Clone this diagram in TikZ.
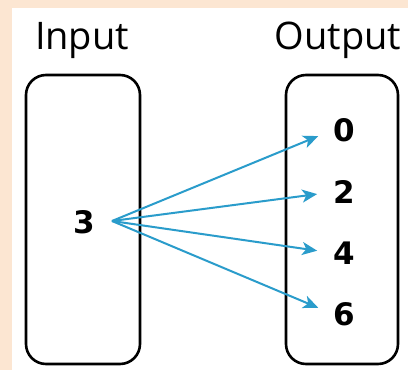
\documentclass[tikz,border=0pt]{standalone}
\usepackage{fontspec}
\setmainfont{Open Sans}
\newfontfamily\digitfont{DejaVu Sans}
\usetikzlibrary{arrows.meta}
\definecolor{peach}{HTML}{FCE6D2}
\definecolor{arrowblue}{HTML}{2A9CCB}
\tikzset{
  setbox/.style={draw=black, line width=2.6pt, rounded corners=20pt, inner sep=0pt,
                 minimum height=289pt, minimum width=#1},
  heading/.style={font=\fontsize{38}{42}\selectfont, inner sep=0pt},
  value/.style={font=\digitfont\bfseries\fontsize{31}{34}\selectfont, inner sep=0pt},
  maparrow/.style={draw=arrowblue, line width=2pt, -{Stealth[length=15pt,width=13pt,inset=4pt]}, shorten >=16pt}
}
\begin{document}
\begin{tikzpicture}[x=1pt, y=-1pt]
  % page and margin band
  \useasboundingbox (0,0) rectangle (408,370);
  \fill[peach] (0,0) rectangle (408,370);
  \fill[white] (12,8) rectangle (408,370);

  % the two sets
  \node[setbox=114pt] (inbox) at (83,219.5) {};
  \node[setbox=112pt] (outbox) at (342,219.5) {};

  % headings
  \node[heading] (inlabel) at (82,40) {Input};
  \node[heading] (outlabel) at (338,40) {Output};

  % elements
  \node[value] (n3) at (84,222) {3};
  \node[value] (n0) at (344,130) {0};
  \node[value] (n2) at (344,192) {2};
  \node[value] (n4) at (344,253) {4};
  \node[value] (n6) at (344,314) {6};

  % mapping arrows
  \coordinate (src) at (112,221);
  \draw[maparrow] (src) -- (n0.west);
  \draw[maparrow] (src) -- (n2.west);
  \draw[maparrow] (src) -- (n4.west);
  \draw[maparrow] (src) -- (n6.west);
\end{tikzpicture}
\end{document}
